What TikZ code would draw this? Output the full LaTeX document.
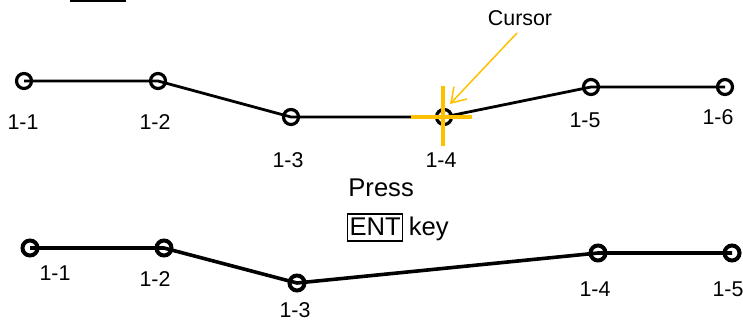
\documentclass[tikz,border=0pt]{standalone}
\usepackage{fontspec}
\setmainfont{Liberation Sans}
\usetikzlibrary{arrows.meta}
\definecolor{cursorcol}{HTML}{FFC000}

\begin{document}
\begin{tikzpicture}[x=0.5pt,y=-0.5pt,
    pt/.style={circle,draw,minimum size=7.5pt,inner sep=0pt},
    lbl/.style={font=\fontsize{10.7}{12}\selectfont,inner sep=0pt},
    big/.style={font=\fontsize{12.8}{14}\selectfont,inner sep=0pt}]
        \useasboundingbox (0,0) rectangle (743,320);
        \draw[line width=1pt] (70,1) -- (126,1);
        % before
        \foreach \n/\x/\y in {1/24/81,2/158/81,3/291/117,4/444/117,5/591/87,6/725/87} {
            \node[pt,line width=1.6pt] (t\n) at (\x,\y) {};
        }
        \foreach \n/\x/\y in {1/23/122,2/155/122,3/288/160,4/441/160,5/585/120,6/718/117} {
            \node[lbl] (tl\n) at (\x,\y) {1-\n};
        }
        \draw[line width=1.4pt] (t1.center) -- (t2.center) -- (t3.center) -- (t4.center) -- (t5.center) -- (t6.center);
        \draw[cursorcol,line width=2pt] (411,117) -- (472,117);
        \draw[cursorcol,line width=2pt] (443,86) -- (443,146);
        \node[lbl] (cur) at (520,18) {Cursor};
        \coordinate (tip) at (450,104);
        \draw[cursorcol,line width=0.75pt,-{Straight Barb[length=7pt,width=9pt]}] (517,33) -- (tip);
        % after
        \node[big,anchor=base west] (press) at (348,197) {Press};
        \node[big,draw,line width=0.6pt,anchor=base west,inner xsep=1pt,inner ysep=1.5pt,
              text height=9pt,text depth=1.5pt] (ent) at (347,235) {ENT};
        \node[big,anchor=base west] (key) at ([xshift=2.5pt]ent.base east) {key};
        \foreach \n/\x/\y in {1/30/248,2/164/248,3/297/283,4/598/253,5/732/253} {
            \node[pt,line width=2pt] (b\n) at (\x,\y) {};
        }
        \foreach \n/\x/\y in {1/55/273,2/155/279,3/295/310,4/595/289,5/728/289} {
            \node[lbl] (bl\n) at (\x,\y) {1-\n};
        }
        \draw[line width=1.8pt] (b1.center) -- (b2.center) -- (b3.center) -- (b4.center) -- (b5.center);
    \end{tikzpicture}
\end{document}
